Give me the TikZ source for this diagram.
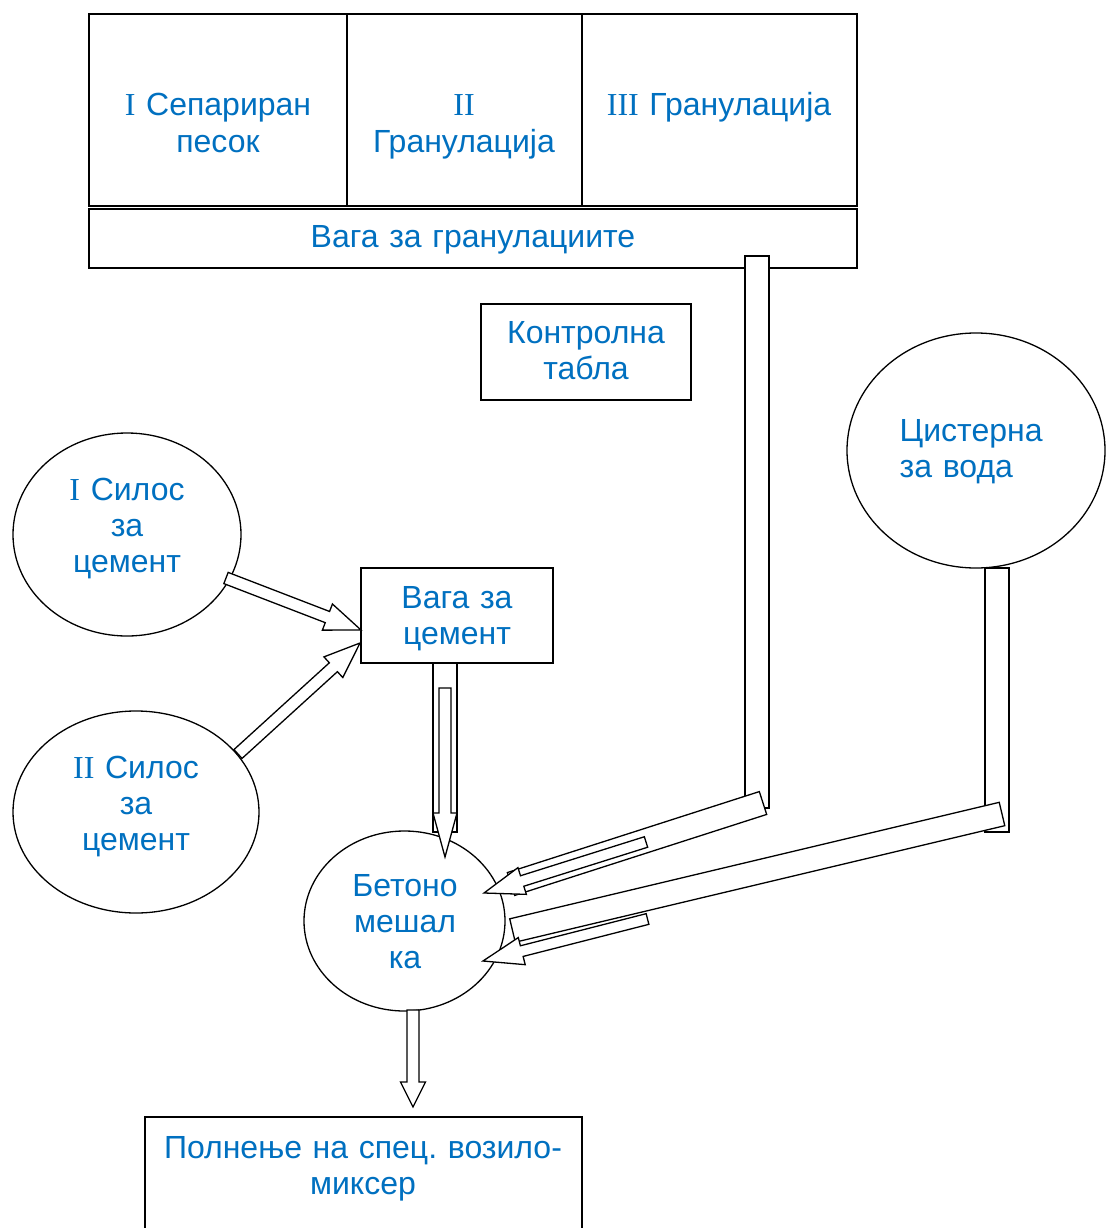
\documentclass[tikz,border=0pt]{standalone}
\usepackage{fontspec}
\setmainfont{Liberation Sans}
\newfontfamily\romfont{Liberation Serif}
\usetikzlibrary{calc,shapes.geometric}
\definecolor{txtblue}{HTML}{0070C0}
\frenchspacing
\newcommand\blkarrow[6]{%
  \coordinate (#6h) at ($(#2)!#5!(#1)$);
  \draw[blk] ($(#1)!#3!90:(#2)$) -- ($(#6h)!#3!90:(#2)$) -- ($(#6h)!#4!90:(#2)$) -- (#2)
    -- ($(#6h)!#4!-90:(#2)$) -- ($(#6h)!#3!-90:(#2)$) -- ($(#1)!#3!-90:(#2)$) -- cycle;}
\newcommand\blkbar[3]{%
  \draw[blk] ($(#1)!#3!90:(#2)$) -- ($(#2)!#3!-90:(#1)$) -- ($(#2)!#3!90:(#1)$) -- ($(#1)!#3!-90:(#2)$) -- cycle;}
\begin{document}
\begin{tikzpicture}[x=1pt,y=-1pt,
  line width=1.3pt,
  blk/.style={draw=black,fill=white,line width=1.3pt,line join=miter},
  box/.style={draw,fill=white,inner sep=0pt,outer sep=0pt,anchor=north west},
  oval/.style={draw,fill=white,ellipse,inner sep=0pt,outer sep=0pt},
  lbl/.style={text=txtblue,font=\fontsize{32}{36}\selectfont\frenchspacing,align=center,text width=460pt,inner sep=0pt,anchor=base},
  lbll/.style={text=txtblue,font=\fontsize{32}{36}\selectfont\frenchspacing,align=left,text width=200pt,inner sep=0pt,anchor=base west}]
\useasboundingbox (0,0) rectangle (1105,1228);
% boxes
\node[box,minimum width=258pt,minimum height=192pt] (c1) at (89,14) {};
\node[box,minimum width=235pt,minimum height=192pt] (c2) at (347,14) {};
\node[box,minimum width=275pt,minimum height=192pt] (c3) at (582,14) {};
\node[box,minimum width=768pt,minimum height=59pt] (vg) at (89,209) {};
\node[box,minimum width=210pt,minimum height=96pt] (ct) at (481,304) {};
\node[box,minimum width=192pt,minimum height=95pt] (vc) at (361,568) {};
\node[box,minimum width=437pt,minimum height=130pt] (fb) at (145,1117) {};
% ovals
\node[oval,minimum width=228pt,minimum height=203pt] (s1) at (127,534.5) {};
\node[oval,minimum width=246pt,minimum height=202pt] (s2) at (136,812) {};
\node[oval,minimum width=258pt,minimum height=235pt] (cw) at (976,450.5) {};
\node[oval,minimum width=201pt,minimum height=180pt] (mx) at (404.5,921) {};
% labels
\node[lbl] (t1) at (218,116) {{\romfont I} Сепариран\\песок};
\node[lbl] (t2) at (464,116) {{\romfont II}\\Гранулација};
\node[lbl] (t3) at (719,116) {{\romfont III} Гранулација};
\node[lbl] (t4) at (473,247) {Вага за гранулациите};
\node[lbl] (t5) at (586,343) {Контролна\\табла};
\node[lbl] (t6) at (127,500) {{\romfont I} Силос\\за\\цемент};
\node[lbl] (t7) at (136,778) {{\romfont II} Силос\\за\\цемент};
\node[lbll] (t8) at (899,441) {Цистерна\\за вода};
\node[lbl] (t9) at (457,608) {Вага за\\цемент};
\node[lbl] (t10) at (405,896) {Бетоно\\мешал\\ка};
\node[lbl] (t11) at (363,1158) {Полнење на спец. возило-\\миксер};
% silo arrows
\coordinate (a1s) at (226,578); \coordinate (a1t) at (361,630);
\blkarrow{a1s}{a1t}{6pt}{14pt}{36pt}{a1}
\coordinate (a2s) at (238,754); \coordinate (a2t) at (360,643);
\blkarrow{a2s}{a2t}{6pt}{14pt}{36pt}{a2}
% cement scale to mixer
\draw[blk] (433,663) rectangle (457,832);
\coordinate (a3s) at (445,688); \coordinate (a3t) at (445,857);
\blkarrow{a3s}{a3t}{6pt}{12pt}{44pt}{a3}
% granulate line
\draw[blk] (745,256) rectangle (769,808);
\coordinate (g1) at (763,803); \coordinate (g2) at (511,884);
\blkbar{g1}{g2}{12pt}
\coordinate (a4s) at (646,842); \coordinate (a4t) at (484,893);
\blkarrow{a4s}{a4t}{5.5pt}{14pt}{40pt}{a4}
% water line
\draw[blk] (985,568) rectangle (1009,832);
\coordinate (w1) at (1002,814); \coordinate (w2) at (512.5,930.5);
\blkbar{w1}{w2}{12pt}
\coordinate (a5s) at (647.5,919); \coordinate (a5t) at (483,961);
\blkarrow{a5s}{a5t}{5.5pt}{14pt}{40pt}{a5}
% mixer to filling
\coordinate (a6s) at (413,1010); \coordinate (a6t) at (413,1107);
\blkarrow{a6s}{a6t}{6pt}{12.5pt}{25pt}{a6}
\end{tikzpicture}
\end{document}
